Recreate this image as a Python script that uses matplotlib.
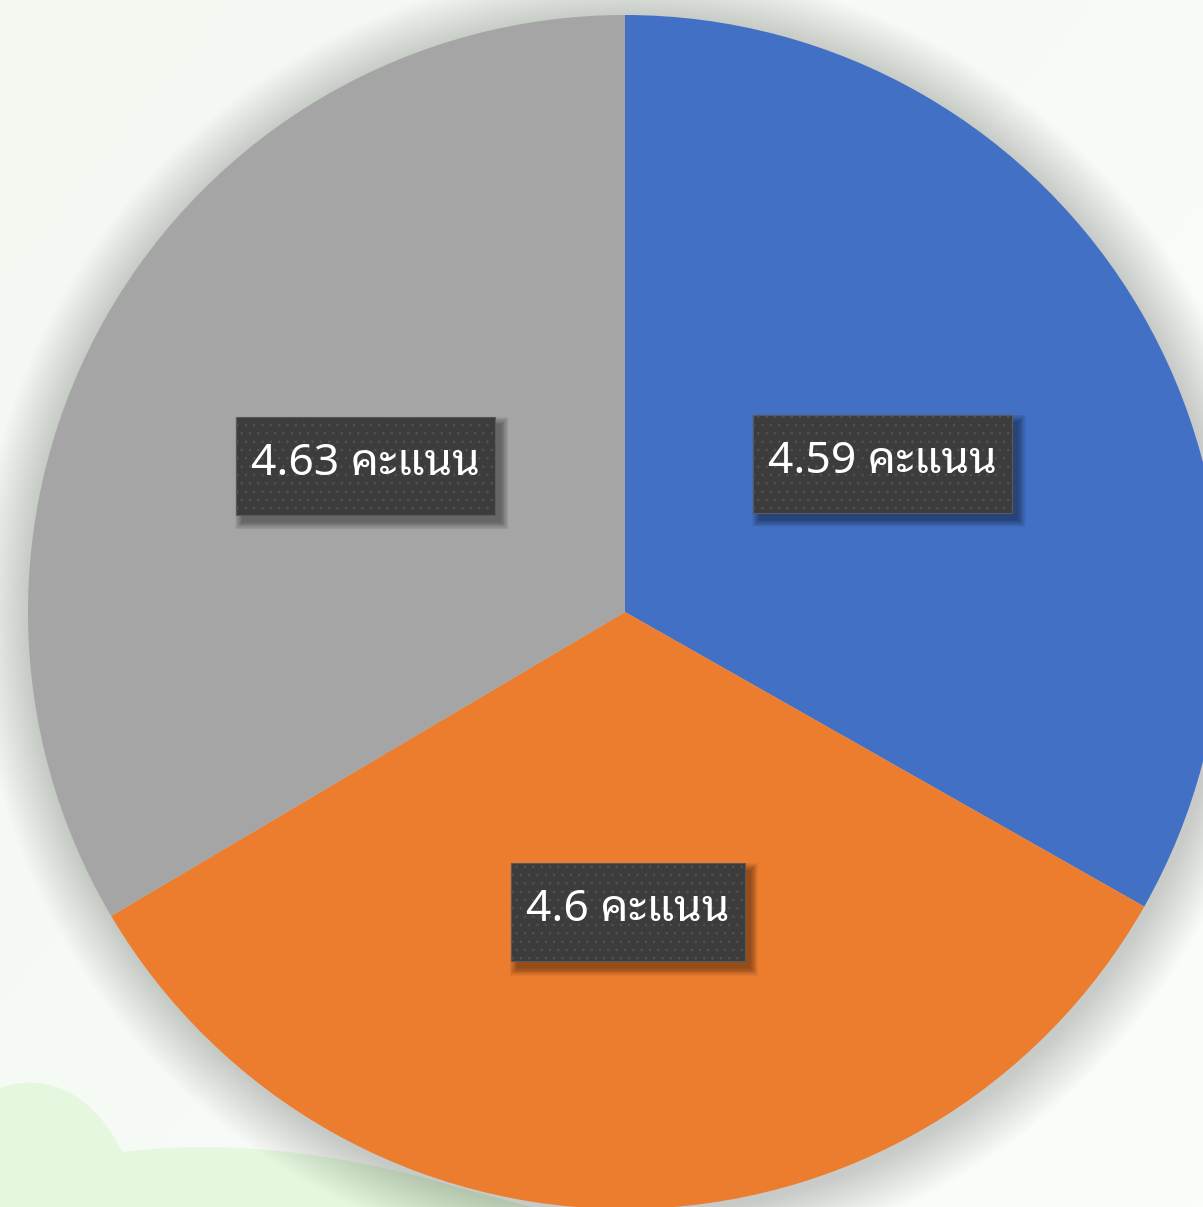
import numpy as np
import matplotlib
matplotlib.use("Agg")
import matplotlib.pyplot as plt
from matplotlib.patches import Rectangle, Circle, PathPatch
from matplotlib.path import Path

# ---- data ----
categories = ["ด้านที่ 1", "ด้านที่ 2", "ด้านที่ 3"]
values = [4.59, 4.6, 4.63]
unit = "คะแนน"
labels = [f"{v:g} {unit}" for v in values]
colors = ["#4270C4", "#EC7D2F", "#A5A5A5"]

plt.rcParams["hatch.linewidth"] = 0.6

W, H = 1203, 1207
fig = plt.figure(figsize=(W / 100, H / 100), dpi=100)
ax = fig.add_axes([0, 0, 1, 1])

# background gradient (light green-white)
gy, gx = np.mgrid[0:1:200j, 0:1:200j]
t = np.clip(0.55 * gx + 0.45 * (1 - gy), 0, 1)
c0 = np.array([0xF3, 0xF8, 0xF1]) / 255
c1 = np.array([0xFB, 0xFD, 0xFB]) / 255
img = c0[None, None, :] * (1 - t[..., None]) + c1[None, None, :] * t[..., None]
ax.imshow(img, extent=(0, W, 0, H), origin="lower", zorder=0, aspect="auto")

# decorative green cloud (bottom-left)
def dn(x, y):
    return (x, H - y)
verts = [dn(0, 1088), dn(55, 1068), dn(100, 1105), dn(122, 1152),
         dn(220, 1140), dn(330, 1150), dn(450, 1185),
         dn(560, 1215), dn(0, 1215), dn(0, 1088)]
codes = [Path.MOVETO, Path.CURVE4, Path.CURVE4, Path.CURVE4,
         Path.CURVE4, Path.CURVE4, Path.CURVE4,
         Path.LINETO, Path.LINETO, Path.CLOSEPOLY]
ax.add_patch(PathPatch(Path(verts, codes), facecolor="#E5F8DF", edgecolor="none", zorder=1))

cx, cy, R = 625, H - 612, 597

# soft pie shadow
for i in range(1, 50):
    ax.add_patch(Circle((cx + 3, cy - 5), R + i * 1.1, facecolor=(0.3, 0.33, 0.3),
                        edgecolor="none", alpha=0.0028, zorder=2))

wedges, texts = ax.pie(values, colors=colors, startangle=90, counterclock=False,
                       radius=R, center=(cx, cy), labels=labels, labeldistance=0.5,
                       wedgeprops=dict(linewidth=0),
                       textprops=dict(color="white", fontsize=32,
                                      family=["Noto Sans Thai Looped", "DejaVu Sans"]))
for w in wedges:
    w.set_zorder(3)
for t_ in texts:
    t_.set_ha("center")
    t_.set_va("center")
    t_.set_zorder(10)

ax.set_xlim(0, W)
ax.set_ylim(0, H)
ax.set_aspect("auto")
ax.axis("off")

fig.canvas.draw()
r = fig.canvas.get_renderer()
for t_ in texts:
    bb = t_.get_window_extent(renderer=r)
    x0, y0 = t_.get_position()
    bw = bb.width + 30
    bh = 98
    left = x0 - bw / 2
    bottom = y0 - bh / 2 - 2
    # soft shadow
    for k in range(10):
        ax.add_patch(Rectangle((left + 6 - k * 0.8, bottom - 7 - k * 0.8), bw + k * 1.6, bh + k * 1.6,
                               facecolor="black", edgecolor="none", alpha=0.045, zorder=7))
    ax.add_patch(Rectangle((left, bottom), bw, bh, facecolor="#3C3C3C",
                           edgecolor="#5a5a5a", linewidth=0.8, zorder=8))
    ax.add_patch(Rectangle((left, bottom), bw, bh, facecolor="none",
                           edgecolor="#525252", linewidth=0, hatch="..", zorder=9))

fig.savefig("out.png", dpi=100)
